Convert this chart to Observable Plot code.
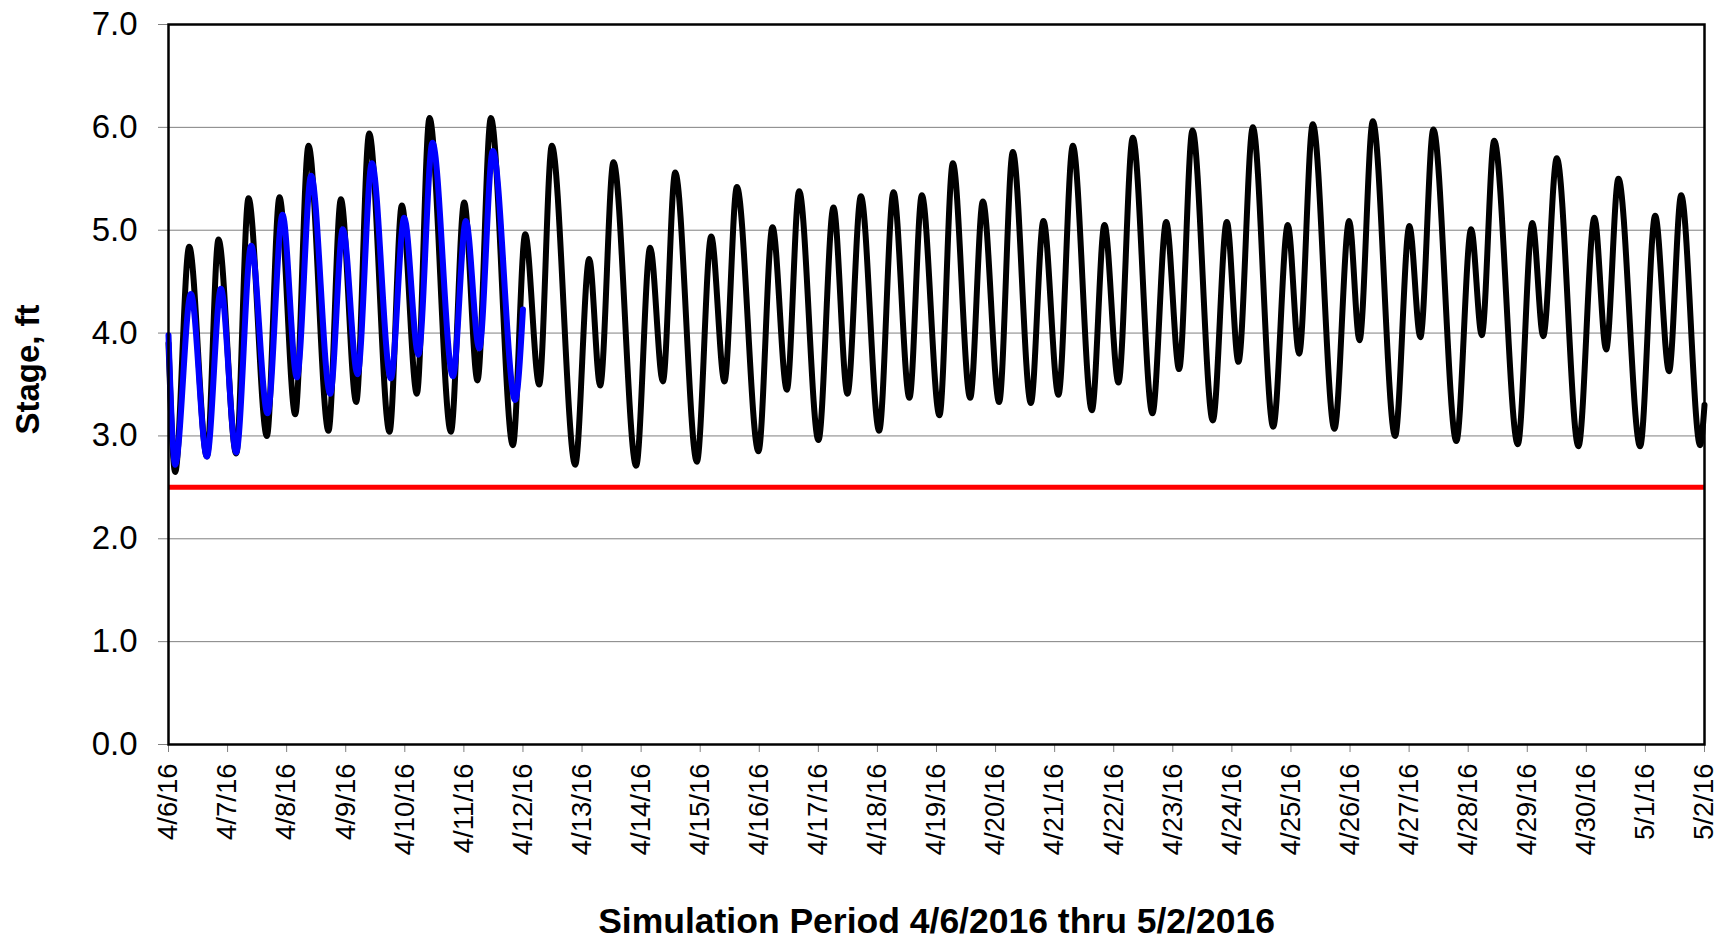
<!DOCTYPE html>
<html>
<head>
<meta charset="utf-8">
<script src="https://cdn.jsdelivr.net/npm/d3@7"></script>
<script src="https://cdn.jsdelivr.net/npm/@observablehq/plot@0.6"></script>
<style>
  html, body { margin: 0; padding: 0; background: #fff; }
  #chart svg { display: block; }
</style>
</head>
<body>
<div id="chart"></div>
<script>
// ---- Data (days since 4/6/2016 00:00, stage in ft) ----
const startDate = "2016-04-06";
const endDate = "2016-05-02";

// Simulated stage (black), turning points
const simDay = [0.000,0.113,0.350,0.650,0.846,1.146,1.354,1.665,1.879,2.145,2.370,2.708,2.918,3.177,3.397,3.741,3.950,4.204,4.418,4.780,5.005,5.230,5.457,5.829,6.038,6.275,6.489,6.884,7.121,7.307,7.532,7.916,8.153,8.368,8.577,8.944,9.186,9.411,9.621,9.986,10.224,10.467,10.675,11.002,11.256,11.493,11.720,12.029,12.272,12.542,12.752,13.050,13.277,13.570,13.785,14.060,14.292,14.597,14.810,15.064,15.308,15.630,15.843,16.080,16.323,16.655,16.888,17.107,17.333,17.677,17.914,18.111,18.355,18.700,18.947,19.138,19.370,19.736,19.985,20.160,20.386,20.763,21.005,21.190,21.410,21.800,22.050,22.230,22.440,22.840,23.087,23.270,23.500,23.866,24.137,24.335,24.543,24.910,25.165,25.400,25.605,25.926,26.000];
const simStage = [3.90,2.65,4.84,2.80,4.91,2.83,5.31,3.00,5.32,3.21,5.82,3.05,5.30,3.33,5.94,3.04,5.24,3.41,6.09,3.04,5.27,3.54,6.09,2.91,4.96,3.50,5.82,2.72,4.72,3.49,5.66,2.71,4.83,3.53,5.56,2.75,4.94,3.53,5.42,2.85,5.03,3.45,5.38,2.96,5.22,3.41,5.33,3.05,5.37,3.37,5.34,3.20,5.65,3.37,5.28,3.33,5.76,3.32,5.09,3.40,5.82,3.25,5.05,3.52,5.90,3.22,5.08,3.65,5.97,3.15,5.08,3.72,6.00,3.09,5.05,3.80,6.03,3.07,5.09,3.93,6.06,3.00,5.04,3.96,5.98,2.95,5.01,3.98,5.87,2.92,5.07,3.97,5.70,2.90,5.12,3.84,5.50,2.90,5.14,3.63,5.34,2.91,3.30];

// Observed stage (blue)
const obsDay = [0.000,0.113,0.379,0.650,0.887,1.146,1.400,1.676,1.930,2.173,2.415,2.737,2.952,3.199,3.443,3.764,3.990,4.230,4.469,4.814,5.034,5.260,5.490,5.868,6.000];
const obsStage = [3.98,2.72,4.38,2.80,4.43,2.84,4.85,3.22,5.15,3.57,5.53,3.41,5.01,3.60,5.65,3.56,5.12,3.79,5.85,3.58,5.09,3.85,5.77,3.35,4.23];

// Reference level (red)
const thresholdStage = [2.5];

// Axis ticks
const yTicks = [0, 1, 2, 3, 4, 5, 6, 7];
const xTickDates = ["2016-04-06","2016-04-07","2016-04-08","2016-04-09","2016-04-10","2016-04-11","2016-04-12","2016-04-13","2016-04-14","2016-04-15","2016-04-16","2016-04-17","2016-04-18","2016-04-19","2016-04-20","2016-04-21","2016-04-22","2016-04-23","2016-04-24","2016-04-25","2016-04-26","2016-04-27","2016-04-28","2016-04-29","2016-04-30","2016-05-01","2016-05-02"];

const yLabel = "Stage, ft";
const xLabel = "Simulation Period 4/6/2016 thru 5/2/2016";

// ---- Build tables ----
const t0 = Date.parse(startDate + "T00:00:00Z");
const toDate = d => new Date(t0 + d * 86400000);
const sim = simDay.map((d, i) => ({date: toDate(d), stage: simStage[i]}));
const obs = obsDay.map((d, i) => ({date: toDate(d), stage: obsStage[i]}));
const xTicks = xTickDates.map(s => new Date(Date.parse(s + "T00:00:00Z")));
const fmt = d3.utcFormat("%-m/%-d/%y");

const font = "'Liberation Sans', Arial, Helvetica, sans-serif";

const chart = Plot.plot({
  width: 1719,
  height: 939,
  marginLeft: 168,
  marginRight: 15,
  marginTop: 24,
  marginBottom: 195,
  style: {fontFamily: font, background: "#fff", color: "#000"},
  x: {type: "utc", domain: [new Date(t0), new Date(Date.parse(endDate + "T00:00:00Z"))]},
  y: {domain: [0, 7]},
  marks: [
    Plot.ruleY(yTicks, {stroke: "#808080", strokeWidth: 1}),
    Plot.axisY({ticks: yTicks, tickFormat: d => d.toFixed(1), tickSize: 10, tickPadding: 21, fontSize: 33, stroke: "#808080", fill: "#000", label: null}),
    Plot.axisX({ticks: xTicks, tickFormat: fmt, tickRotate: -90, tickSize: 8, tickPadding: 11, fontSize: 27.5, stroke: "#808080", fill: "#000", label: null}),
    Plot.ruleY(thresholdStage, {stroke: "#ff0000", strokeWidth: 5}),
    Plot.line(sim, {x: "date", y: "stage", stroke: "#000", strokeWidth: 6, strokeLinejoin: "round", curve: "monotone-x"}),
    Plot.line(obs, {x: "date", y: "stage", stroke: "#0000ff", strokeWidth: 6, strokeLinejoin: "round", curve: "monotone-x"}),
    Plot.frame({stroke: "#000", strokeWidth: 2.5}),
    Plot.text([yLabel], {frameAnchor: "left", textAnchor: "middle", dx: -140, dy: -15, rotate: -90, fontSize: 33, fontWeight: "bold", fill: "#000"}),
    Plot.text([xLabel], {frameAnchor: "bottom", dy: 188, fontSize: 35.5, fontWeight: "bold", fill: "#000"})
  ]
});

document.getElementById("chart").appendChild(chart);
</script>
</body>
</html>
